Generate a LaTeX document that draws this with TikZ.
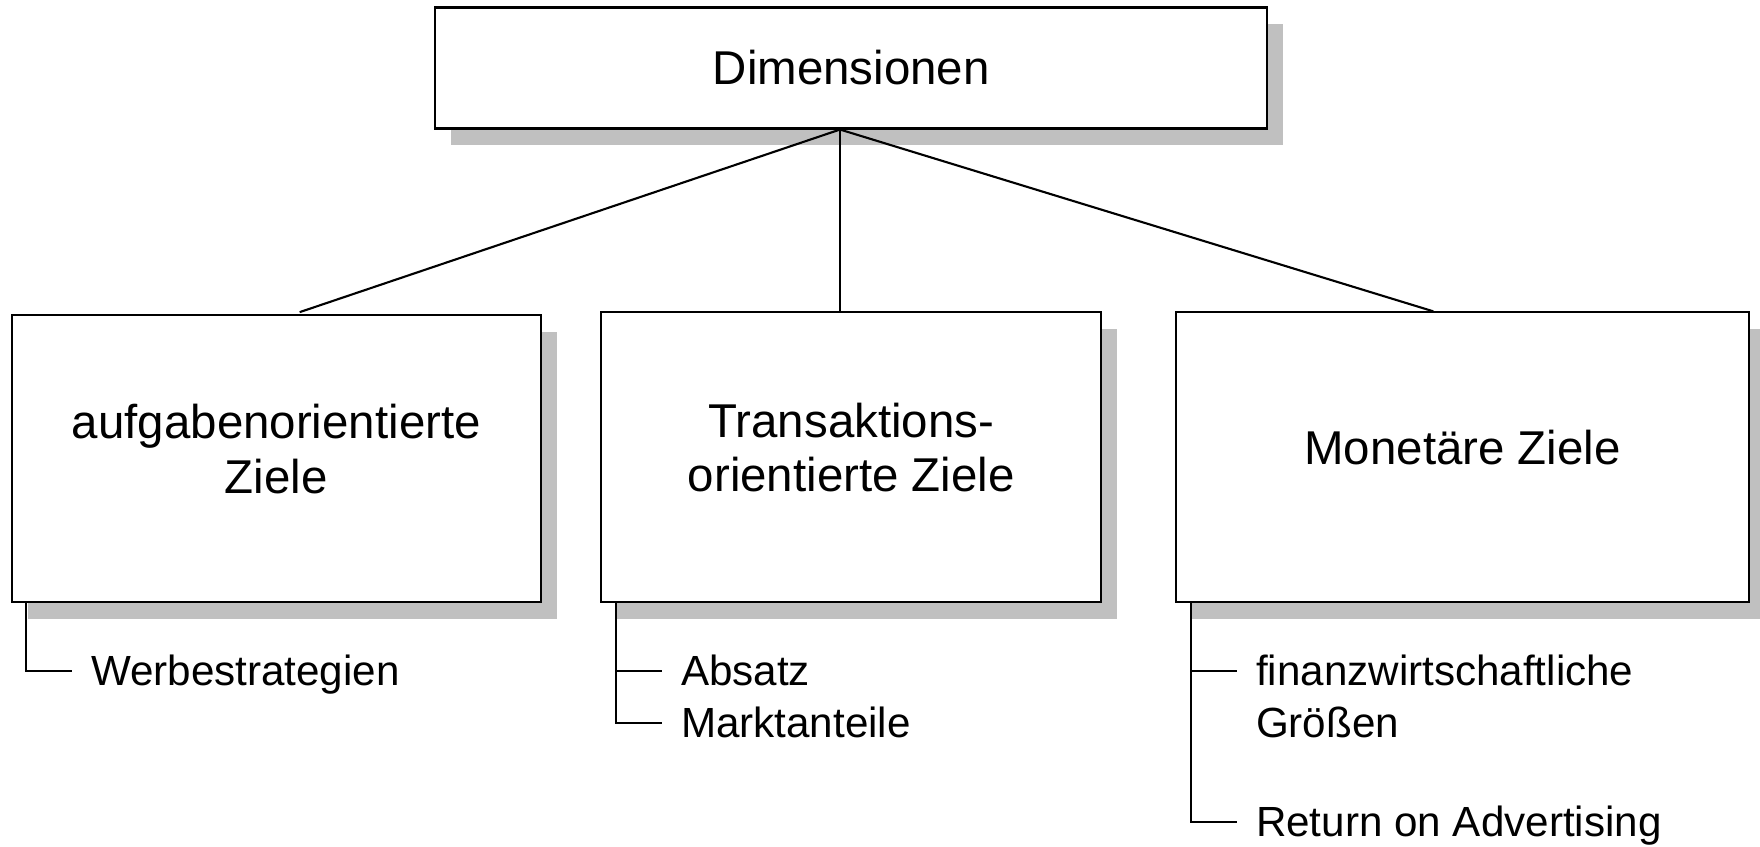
\documentclass[tikz,border=0pt]{standalone}
\usepackage{fontspec}
\setmainfont{Liberation Sans}
\usepackage{tikz}
\usetikzlibrary{shadows,calc}
\definecolor{shadegray}{RGB}{192,192,192}

\begin{document}
\begin{tikzpicture}[line width=0.6pt,
  zb/.style={draw,fill=white,align=center,inner sep=0pt,minimum height=2.9cm,
    font=\fontsize{13.5}{15.6}\selectfont,
    drop shadow={shadow xshift=0.16cm,shadow yshift=-0.165cm,fill=shadegray,opacity=1}},
  zup/.style={execute at end node={\rule[-0.2cm]{0pt}{0.2cm}}},
  li/.style={anchor=base west,inner sep=0pt,align=left,font=\fontsize{12}{14.7}\selectfont}]
  \useasboundingbox (0,0) rectangle (17.6,-8.47);
  % top box
  \node[zb,minimum width=8.32cm,minimum height=1.21cm] (dim) at (8.513,-0.68) {Dimensionen};
  % the three goal boxes
  \node[zb,zup,minimum width=5.29cm,minimum height=2.87cm] (aufg) at (2.764,-4.589) {aufgabenorientierte\\ Ziele};
  \node[zb,zup,minimum width=5.0cm] (trans) at (8.514,-4.574) {Transaktions-\\ orientierte Ziele};
  \node[zb,zup,minimum width=5.73cm] (mon) at (14.626,-4.574) {Monetäre Ziele};
  % connectors from the top box
  \coordinate (hub) at ([xshift=-0.113cm]dim.south);
  \draw (hub) -- ([xshift=0.233cm,yshift=0.022cm]aufg.north);
  \draw (hub) -- (hub |- trans.north);
  \draw (hub) -- ([xshift=-0.293cm]mon.north);
  % sub items (base of a two-line item is its last line)
  \node[li] (werbe) at (0.90,-6.855) {Werbestrategien};
  \node[li] (absatz) at (6.80,-6.855) {Absatz};
  \node[li] (markt) at (6.80,-7.372) {Marktanteile};
  \node[li] (finanz) at (12.55,-7.372) {finanzwirtschaftliche\\Größen};
  \node[li] (roa) at (12.55,-8.365) {Return on Advertising};
  % item lines
  \coordinate (al) at ([xshift=0.155cm]aufg.south west);
  \coordinate (tl) at ([xshift=0.155cm]trans.south west);
  \coordinate (ml) at ([xshift=0.155cm]mon.south west);
  \draw (al) |- ([xshift=-0.185cm,yshift=0.145cm]werbe.base west);
  \draw (tl) |- ([xshift=-0.185cm,yshift=0.145cm]markt.base west);
  \draw (tl |- absatz.base) ++(0,0.145) -- ([xshift=-0.185cm,yshift=0.145cm]absatz.base west);
  \draw (ml) |- ([xshift=-0.185cm,yshift=0.145cm]roa.base west);
  \draw (ml |- finanz.base) ++(0,0.662) -- ([xshift=-0.185cm,yshift=0.662cm]finanz.base west);
\end{tikzpicture}
\end{document}
